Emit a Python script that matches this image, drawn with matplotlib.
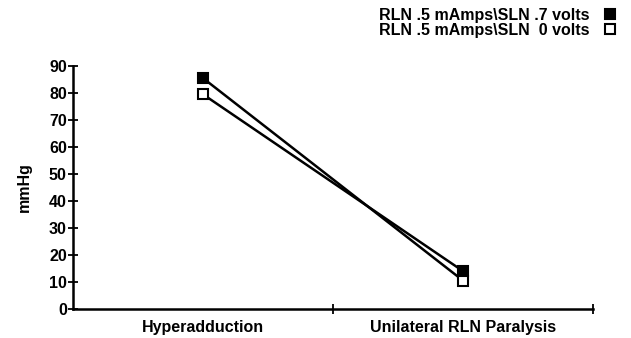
import matplotlib
matplotlib.use('Agg')
import matplotlib.pyplot as plt
from matplotlib.lines import Line2D

plt.rcParams['font.family'] = ['Liberation Sans', 'DejaVu Sans']
plt.rcParams['font.size'] = 11.5
plt.rcParams['font.weight'] = 'bold'
plt.rcParams['axes.labelweight'] = 'bold'

categories = ['Hyperadduction', 'Unilateral RLN Paralysis']
sln_07 = [85.5, 14.0]
sln_0 = [79.5, 10.5]
labels = ['RLN .5 mAmps\\SLN .7 volts', 'RLN .5 mAmps\\SLN  0 volts']
yticks = [0, 10, 20, 30, 40, 50, 60, 70, 80, 90]

fig = plt.figure(figsize=(6.31, 3.38), dpi=100)
ax = fig.add_axes([0.1157, 0.0858, 0.8243, 0.7189])

xpos = [0.5, 1.5]
# in the original the connecting lines swap over between the two groups
ax.plot(xpos, [sln_07[0], sln_0[1]], color='black', lw=1.8, zorder=2)
ax.plot(xpos, [sln_0[0], sln_07[1]], color='black', lw=1.8, zorder=2)
ax.plot(xpos, sln_07, ls='none', marker='s', ms=7,
        mfc='black', mec='black', mew=1.5, zorder=3)
ax.plot(xpos, sln_0, ls='none', marker='s', ms=7,
        mfc='white', mec='black', mew=1.5, zorder=3)

ax.set_xlim(0, 2)
ax.set_ylim(0, 90)
ax.set_yticks(yticks)
ax.set_xticks([1, 2])
ax.set_xticklabels([])
ax.tick_params(axis='both', direction='inout', length=7, width=1.3, pad=1)
for i, c in enumerate(categories):
    ax.text(xpos[i], -4, c, ha='center', va='top', transform=ax.transData)

for s in ['top', 'right']:
    ax.spines[s].set_visible(False)
for s in ['left', 'bottom']:
    ax.spines[s].set_linewidth(1.8)

ax.set_ylabel('mmHg', labelpad=12)

handles = [Line2D([], [], ls='none', marker='s', ms=7, mfc='black', mec='black', mew=1.5),
           Line2D([], [], ls='none', marker='s', ms=7, mfc='white', mec='black', mew=1.5)]
ax.legend(handles, labels, loc='upper right', bbox_to_anchor=(0.99, 1.0),
          bbox_transform=fig.transFigure, frameon=False, markerfirst=False,
          handlelength=0.8, handletextpad=0.9, labelspacing=0.0,
          borderaxespad=0.1, fontsize=11.5)

fig.savefig('out.png', dpi=100)
